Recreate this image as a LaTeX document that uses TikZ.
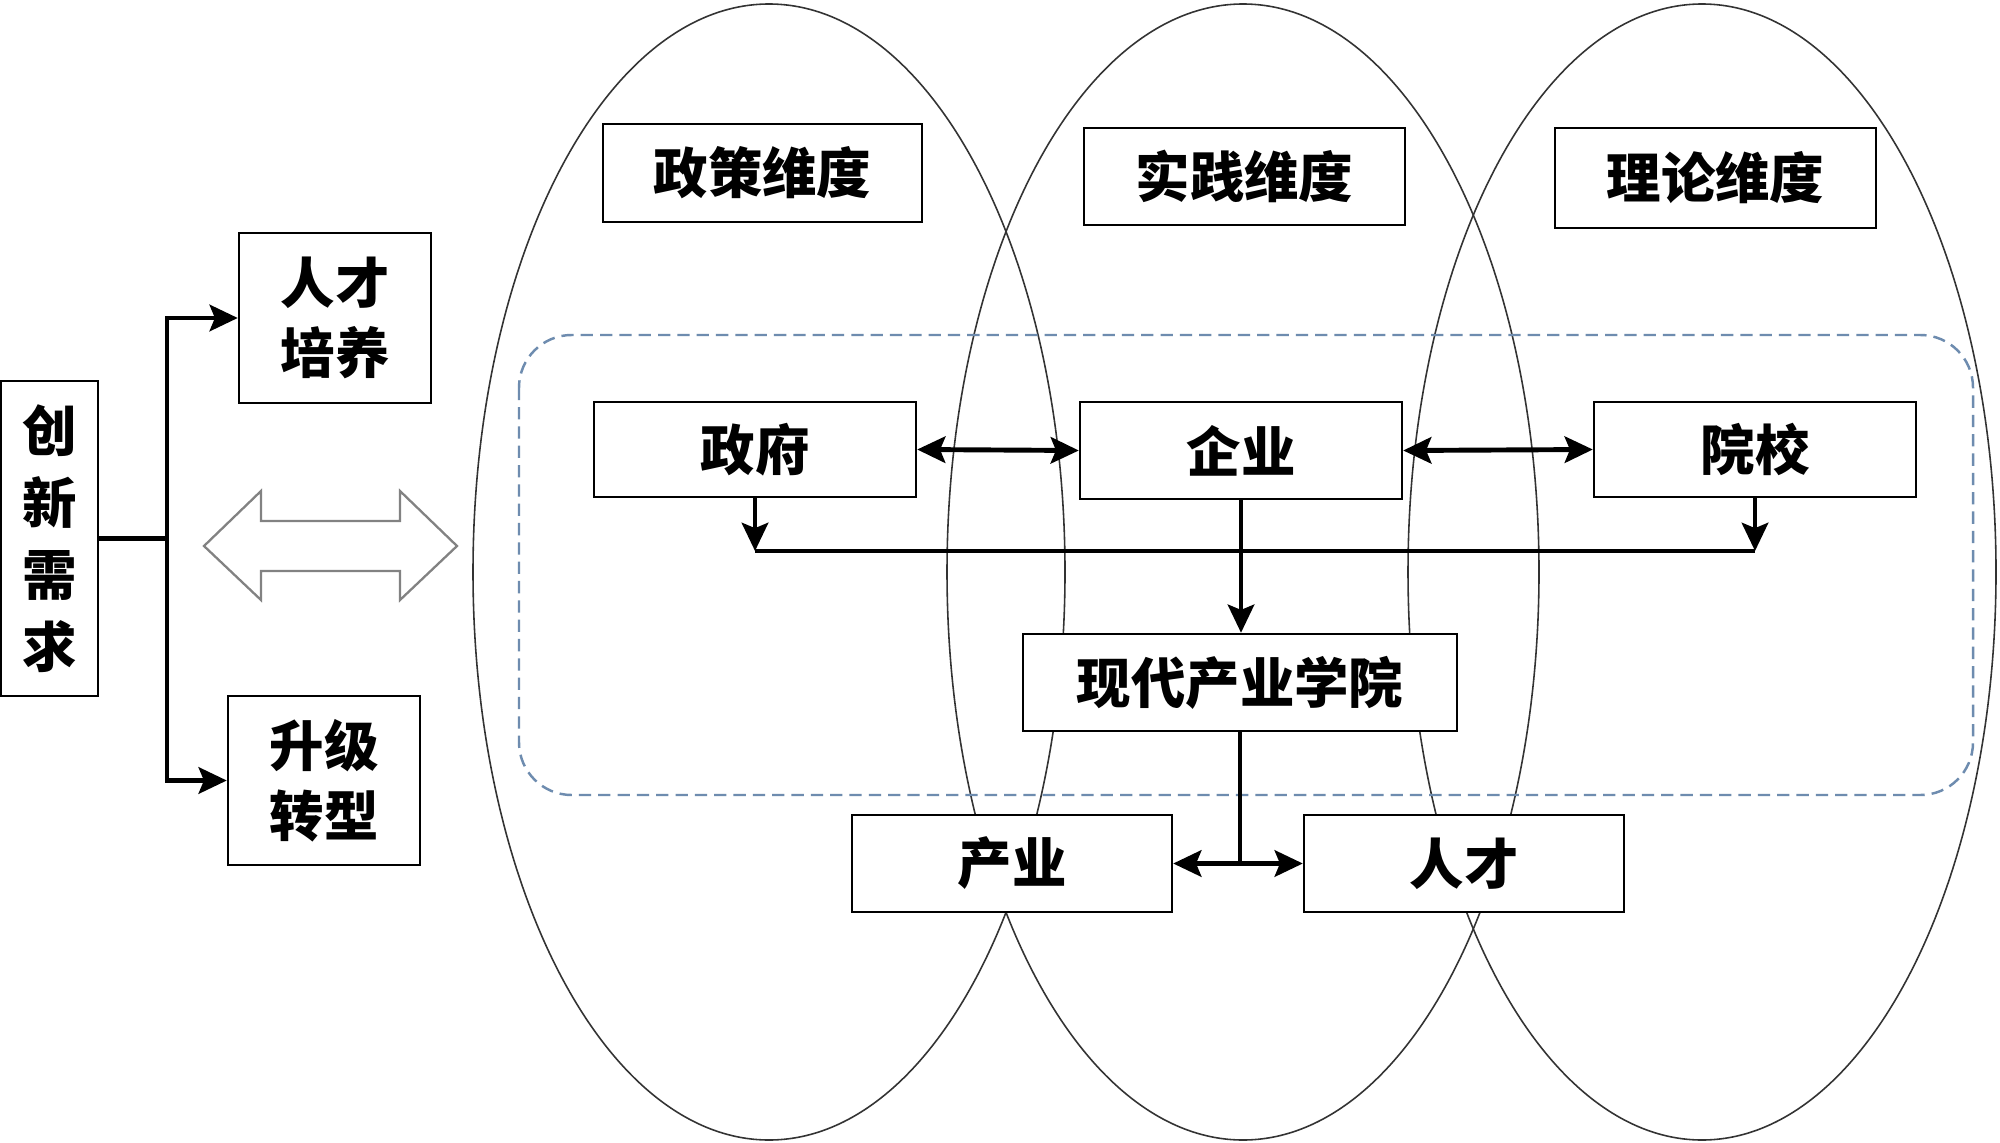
\documentclass[tikz,border=0pt]{standalone}
\usepackage{fontspec}
\setmainfont{Noto Sans CJK SC}
\usetikzlibrary{arrows.meta}
\definecolor{dashblue}{RGB}{110,140,175}
\definecolor{hollowgray}{RGB}{130,130,130}
\tikzset{
  box/.style={draw=black, line width=1.4pt, fill=white, inner sep=0pt, font=\bfseries\fontsize{31}{38}\selectfont},
  oval/.style={draw=black!80, line width=0.9pt},
  conn/.style={draw=black, line width=2.8pt},
  tip/.style={-{Stealth[length=16pt,width=15pt,inset=3pt]}},
  tips/.style={{Stealth[length=16pt,width=15pt,inset=3pt]}-{Stealth[length=16pt,width=15pt,inset=3pt]}}
}
\begin{document}
\begin{tikzpicture}[x=0.02cm,y=0.02cm]
\useasboundingbox (0,0) rectangle (2000,-1142);
\fill[white] (0,0) rectangle (2000,-1142);
% ellipses
\draw[oval] (769,-572) ellipse [x radius=296, y radius=568];
\draw[oval] (1243,-572) ellipse [x radius=296, y radius=568];
\draw[oval] (1702,-572) ellipse [x radius=294, y radius=568];
% dashed region
\draw[dashblue, line width=1.4pt, dash pattern=on 7pt off 4pt, rounded corners=30pt] (519,-335) rectangle (1973,-795);
% left part
\node[box, minimum width=1.94cm, minimum height=6.3cm, align=center, font=\bfseries\fontsize{31}{41}\selectfont] (cxn) at (49.5,-538.5) {创\\新\\需\\求};
\node[box, minimum width=3.84cm, minimum height=3.4cm, align=center, font=\bfseries\fontsize{31}{40}\selectfont] (rcpy) at (335,-318) {人才\\培养};
\node[box, minimum width=3.84cm, minimum height=3.38cm, align=center, font=\bfseries\fontsize{31}{40}\selectfont] (sjzx) at (324,-780.5) {升级\\转型};
\coordinate (br) at (167,-538.5);
\draw[conn] (cxn.east) -- (br);
\draw[conn, tip] (br) |- (rcpy.west);
\draw[conn, tip] (br) |- (sjzx.west);
% hollow double arrow
\draw[hollowgray, line width=1.3pt, fill=white, line join=miter]
  (204,-546) -- (261,-491) -- (261,-521) -- (400,-521) -- (400,-491) -- (457,-546)
  -- (400,-600) -- (400,-571) -- (261,-571) -- (261,-600) -- cycle;
% dimension boxes
\node[box, minimum width=6.38cm, minimum height=1.96cm] (zc) at (762.5,-173) {政策维度};
\node[box, minimum width=6.42cm, minimum height=1.94cm] (sjd) at (1244.5,-176.5) {实践维度};
\node[box, minimum width=6.42cm, minimum height=2.0cm] (lld) at (1715.5,-178) {理论维度};
% actors
\node[box, minimum width=6.44cm, minimum height=1.9cm] (zf) at (755,-449.5) {政府};
\node[box, minimum width=6.44cm, minimum height=1.94cm] (qy) at (1241,-450.5) {企业};
\node[box, minimum width=6.44cm, minimum height=1.9cm] (yx) at (1755,-449.5) {院校};
\node[box, minimum width=8.68cm, minimum height=1.94cm] (xd) at (1240,-682.5) {现代产业学院};
\node[box, minimum width=6.4cm, minimum height=1.94cm] (cy) at (1012,-863.5) {产业};
\node[box, minimum width=6.4cm, minimum height=1.94cm] (rc) at (1464,-863.5) {人才};
% connectors
\draw[conn, tips] (zf.east) -- (qy.west);
\draw[conn, tips] (qy.east) -- (yx.west);
\coordinate (busL) at (755,-551);
\coordinate (busR) at (1755,-551);
\draw[conn] (busL) -- (busR);
\draw[conn, tip] (zf.south) -- (busL);
\draw[conn, tip] (yx.south) -- (busR);
\draw[conn, tip] (qy.south) -- (qy.south |- xd.north);
\coordinate (jn) at (xd.south |- cy.east);
\draw[conn] (xd.south) -- (jn);
\draw[conn, tip] (jn) -- (cy.east);
\draw[conn, tip] (jn) -- (rc.west);
\end{tikzpicture}
\end{document}
